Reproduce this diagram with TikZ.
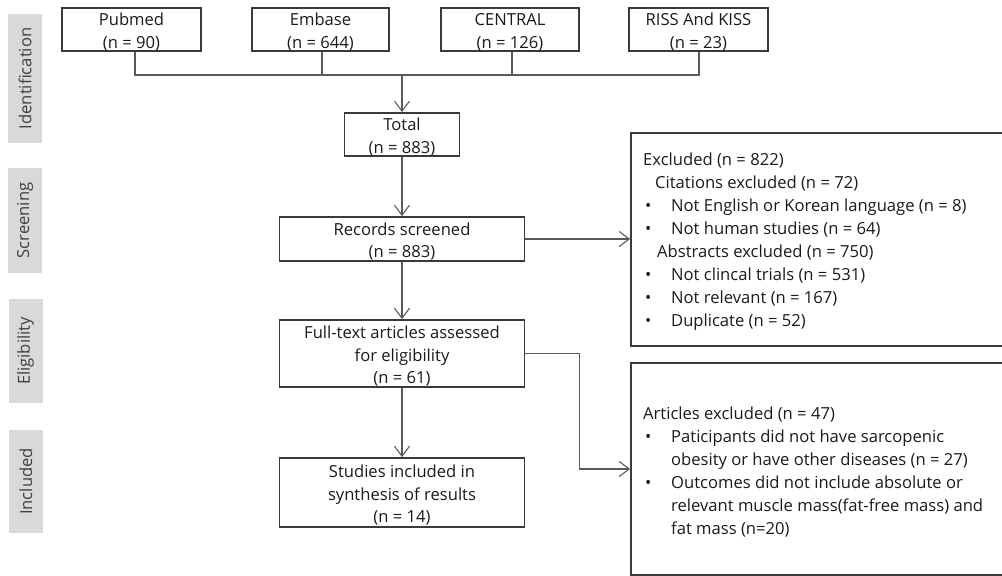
\documentclass[tikz,border=0pt]{standalone}
\usepackage{fontspec}
\setmainfont{Open Sans}
\usetikzlibrary{arrows.meta}
\definecolor{boxline}{HTML}{3A3A3A}
\definecolor{connline}{HTML}{5A5A5A}
\definecolor{sidefill}{HTML}{D9D9D9}
\definecolor{txt}{HTML}{1A1A1A}
\definecolor{sidetxt}{HTML}{404040}
\tikzset{
  box/.style={draw=boxline, line width=1.8pt, inner sep=0pt, align=center,
    text=txt, font=\fontsize{16.6}{22.5}\selectfont},
  exbox/.style={draw=boxline, line width=1.8pt, inner sep=0pt},
  extext/.style={inner sep=0pt, anchor=base west, text=txt},
  side/.style={fill=sidefill, inner sep=0pt, text=sidetxt,
    font=\fontsize{16.6}{18}\selectfont},
  conn/.style={draw=connline, line width=1.1pt},
  arr/.style={conn, -{Straight Barb[length=10pt,width=15pt,line width=1.1pt]}}
}
\newcommand{\bul}{\hspace*{2pt}\makebox[26pt][l]{•}}
\newcommand{\ind}{\hspace*{28pt}}
\newcommand{\tp}{\rule{0pt}{18pt}}
\begin{document}
\begin{tikzpicture}[x=1pt,y=-1pt]
\clip (0,0) rectangle (1002,576);
\fill[white] (0,0) rectangle (1002,576);
% side labels
\node[side, minimum width=34pt, minimum height=129pt] (sid) at (25,78.5) {\rotatebox{90}{Identification}};
\node[side, minimum width=34pt, minimum height=105pt] (sscr) at (25,220.5) {\rotatebox{90}{Screening}};
\node[side, minimum width=34pt, minimum height=104pt] (selg) at (25.5,351) {\rotatebox{90}{Eligibility}};
\node[side, minimum width=34pt, minimum height=103pt] (sinc) at (26,481.5) {\rotatebox{90}{Included}};
% source boxes
\node[box, minimum width=139pt, minimum height=43pt] (pub) at (131.5,29.5) {\tp Pubmed\\(n = 90)};
\node[box, minimum width=137pt, minimum height=43pt] (emb) at (320.5,29.5) {\tp Embase\\(n = 644)};
\node[box, minimum width=138pt, minimum height=43pt] (cen) at (510,29.5) {\tp CENTRAL\\(n = 126)};
\node[box, minimum width=139pt, minimum height=43pt] (riss) at (698.5,29.5) {\tp RISS And KISS\\(n = 23)};
% main column
\node[box, minimum width=115pt, minimum height=43pt] (tot) at (402,134.5) {\tp Total\\(n = 883)};
\node[box, minimum width=245pt, minimum height=44pt] (rec) at (402,239) {\tp Records screened\\(n = 883)};
\node[box, minimum width=245pt, minimum height=67pt] (full) at (402,353.5) {\tp Full-text articles assessed\\for eligibility\\(n = 61)};
\node[box, minimum width=245pt, minimum height=69pt] (stu) at (402,492.5) {\tp Studies included in\\synthesis of results\\(n = 14)};
% exclusion boxes
\node[exbox, minimum width=381pt, minimum height=213pt] (ex1) at (821.5,239.5) {};
\node[exbox, minimum width=381pt, minimum height=212pt] (ex2) at (821.5,469) {};
\node[extext] (ex1t) at (643,165) {\parbox[t]{350pt}{\fontsize{16.6}{23}\selectfont\setlength{\parindent}{0pt}%
Excluded (n = 822)\\
\hspace*{12pt}Citations excluded (n = 72)\\
\bul Not English or Korean language (n = 8)\\
\bul Not human studies (n = 64)\\
\hspace*{14pt}Abstracts excluded (n = 750)\\
\bul Not clincal trials (n = 531)\\
\bul Not relevant (n = 167)\\
\bul Duplicate (n = 52)}};
\node[extext] (ex2t) at (643,419) {\parbox[t]{350pt}{\fontsize{16.6}{23}\selectfont\setlength{\parindent}{0pt}%
Articles excluded (n = 47)\\
\bul Paticipants did not have sarcopenic\\
\ind obesity or have other diseases (n = 27)\\
\bul Outcomes did not include absolute or\\
\ind relevant muscle mass(fat-free mass) and\\
\ind fat mass (n=20)}};
% connectors
\coordinate (hl) at (135,75);
\coordinate (hr) at (699,75);
\coordinate (jn) at (402,75);
\draw[conn] ([xshift=3.5pt]pub.south) |- (hr) -- ([xshift=0.5pt]riss.south);
\draw[conn] ([xshift=1.5pt]emb.south) -- ([xshift=1.5pt]emb.south |- hl);
\draw[conn] ([xshift=2pt]cen.south) -- ([xshift=2pt]cen.south |- hl);
\draw[arr] (jn) -- (tot.north);
\draw[arr] (tot.south) -- (rec.north);
\draw[arr] (rec.south) -- (full.north);
\draw[arr] (full.south) -- (stu.north);
\draw[arr] (rec.east) -- (rec.east -| ex1.west);
\draw[arr] (full.east) -- ++(54,0) |- (ex2.west);
\end{tikzpicture}
\end{document}
